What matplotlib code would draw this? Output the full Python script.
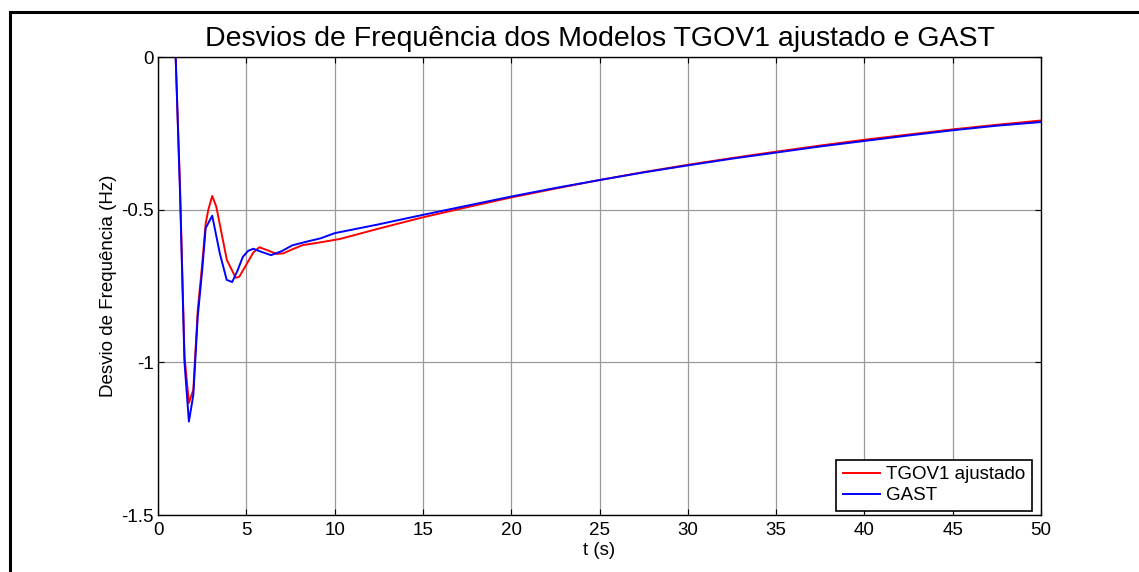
import numpy as np
import matplotlib
matplotlib.use('Agg')
import matplotlib.pyplot as plt
from matplotlib.patches import Rectangle

plt.rcParams['font.family'] = ['Liberation Sans', 'DejaVu Sans']

# GAST response (Hz deviation vs time)
t_gast = [0, 1.0, 1.25, 1.5, 1.75, 2.0, 2.25, 2.5, 2.7, 3.07, 3.5, 3.89, 4.2, 4.5, 4.8,
          5.1, 5.4, 5.8, 6.4, 7.0, 7.6, 8.4, 9.2, 10, 12.5, 15, 17.5, 20, 22.5, 25,
          27.5, 30, 32.5, 35, 37.5, 40, 42.5, 45, 47.5, 50]
f_gast = [0, 0, -0.45, -1.0, -1.194, -1.107, -0.85, -0.70, -0.56, -0.52, -0.643, -0.73,
          -0.737, -0.70, -0.655, -0.635, -0.628, -0.637, -0.649, -0.636, -0.617, -0.605,
          -0.594, -0.577, -0.548, -0.517, -0.487, -0.457, -0.429, -0.403, -0.378, -0.355,
          -0.333, -0.313, -0.293, -0.275, -0.257, -0.240, -0.225, -0.213]

# TGOV1 ajustado response
t_tgov = [0, 1.0, 1.25, 1.5, 1.75, 2.0, 2.25, 2.5, 2.7, 2.85, 3.07, 3.3, 3.9, 4.4, 4.6,
          5.0, 5.4, 5.74, 6.2, 6.72, 7.1, 7.6, 8.2, 9.2, 10.3, 12.5, 15, 17.5, 20, 22.5,
          25, 27.5, 30, 32.5, 35, 37.5, 40, 42.5, 45, 47.5, 50]
f_tgov = [0, 0, -0.43, -0.98, -1.133, -1.09, -0.83, -0.68, -0.545, -0.50, -0.455, -0.49,
          -0.665, -0.723, -0.72, -0.68, -0.64, -0.623, -0.633, -0.645, -0.643, -0.63,
          -0.616, -0.607, -0.596, -0.562, -0.525, -0.492, -0.460, -0.431, -0.403, -0.377,
          -0.353, -0.331, -0.310, -0.290, -0.271, -0.254, -0.237, -0.222, -0.208]

xticks = np.arange(0, 51, 5)
yticks = [0, -0.5, -1, -1.5]
ylabels = ['0', '-0.5', '-1', '-1.5']

fig = plt.figure(figsize=(11.39, 5.72), dpi=100)
ax = fig.add_axes([158/1139, 1 - 515/572, (1041-158)/1139, (515-57)/572])

ax.plot(t_tgov, f_tgov, color='#ff0000', lw=1.4, label='TGOV1 ajustado')
ax.plot(t_gast, f_gast, color='#0000ff', lw=1.4, label='GAST')

ax.set_xlim(0, 50)
ax.set_ylim(-1.5, 0)
ax.set_xticks(xticks)
ax.set_xticklabels([str(v) for v in xticks])
ax.set_yticks(yticks)
ax.set_yticklabels(ylabels)
ax.tick_params(direction='in', length=4, width=0.8, top=True, right=True,
               labelsize=13.5, pad=3)
ax.tick_params(axis='x', pad=5)
ax.grid(True, color='#9a9a9a', lw=0.9, ls='-')
for s in ax.spines.values():
    s.set_linewidth(1.0)

ax.set_title('Desvios de Frequência dos Modelos TGOV1 ajustado e GAST',
             fontsize=20.5, pad=8)
ax.set_xlabel('t (s)', fontsize=13.5, labelpad=2)
ax.set_ylabel('Desvio de Frequência (Hz)', fontsize=13.5, labelpad=3)

leg = ax.legend(loc='lower right', bbox_to_anchor=(0.9894, 0.0094), fontsize=13.5,
                frameon=True, fancybox=False, edgecolor='black', framealpha=1,
                borderaxespad=0, handlelength=2.0, handletextpad=0.3,
                borderpad=0.35, labelspacing=0.2)
leg.get_frame().set_linewidth(1.2)

# outer frame of the figure window
fig.patches.append(Rectangle((10/1139, -0.1), 1.2, 1.1 - 12/572,
                             transform=fig.transFigure, fill=False,
                             edgecolor='black', lw=2.2))

fig.savefig('out.png', dpi=100)
